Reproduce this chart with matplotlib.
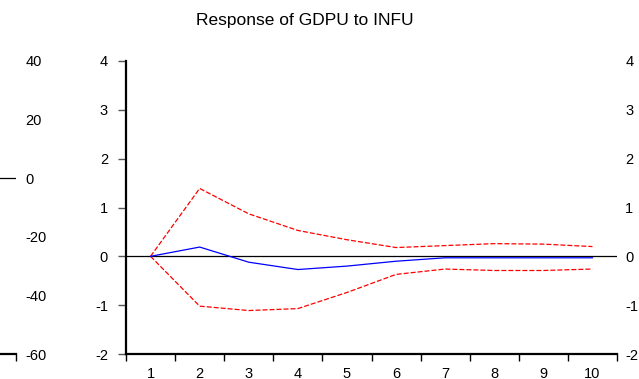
import matplotlib
matplotlib.use("Agg")
import matplotlib.pyplot as plt
from matplotlib.ticker import FixedLocator, NullFormatter

plt.rcParams["font.family"] = ["Liberation Sans", "DejaVu Sans"]
plt.rcParams["axes.unicode_minus"] = False

# Impulse response of GDPU to a shock in INFU, with +/- 2 S.E. bands
periods = [1, 2, 3, 4, 5, 6, 7, 8, 9, 10]
response = [0.0, 0.19, -0.12, -0.27, -0.20, -0.10, -0.03, -0.03, -0.03, -0.03]
upper_band = [0.0, 1.39, 0.87, 0.53, 0.34, 0.18, 0.22, 0.26, 0.25, 0.20]
lower_band = [0.0, -1.02, -1.11, -1.07, -0.74, -0.37, -0.26, -0.29, -0.29, -0.26]

y_ticks = [-2, -1, 0, 1, 2, 3, 4]
prev_y_ticks = [-60, -40, -20, 0, 20, 40]

W, H = 639, 379
fig = plt.figure(figsize=(W / 100, H / 100), dpi=100)

# panel geometry in pixels
ax_left, ax_right = 126, 617
ax_top, ax_bottom = 61, 354
FS = 10.5


def panel(left_px):
    return fig.add_axes([left_px / W, (H - ax_bottom) / H,
                         (ax_right - ax_left) / W, (ax_bottom - ax_top) / H])


def style_x(ax):
    ax.set_xlim(0.5, 10.5)
    ax.set_xticks(periods)
    ax.tick_params(axis="x", which="major", length=0, pad=9, labelsize=FS)
    ax.xaxis.set_minor_locator(FixedLocator([p + 0.5 for p in [0] + periods]))
    ax.xaxis.set_minor_formatter(NullFormatter())
    ax.tick_params(axis="x", which="minor", length=5, width=1.0,
                   direction="out", color="black")
    for s in ["top", "right", "left"]:
        ax.spines[s].set_visible(False)
    ax.spines["bottom"].set_linewidth(1.6)


# fragment of the neighbouring panel on the left
prev = panel(16 - (ax_right - ax_left))
prev.set_ylim(-60, 40)
prev.axhline(0, color="black", lw=0.9)
style_x(prev)
prev.yaxis.tick_right()
prev.set_yticks(prev_y_ticks)
prev.tick_params(axis="y", length=0, pad=7, labelsize=FS)

# main panel
ax = panel(ax_left)
ax.set_ylim(-2, 4)
ax.axhline(0, color="black", lw=0.9, zorder=1)
ax.plot(periods, upper_band, color="red", lw=0.9, dashes=(4, 1.6), zorder=2)
ax.plot(periods, lower_band, color="red", lw=0.9, dashes=(4, 1.6), zorder=2)
ax.plot(periods, response, color="blue", lw=0.9, zorder=3)
style_x(ax)
ax.spines["left"].set_visible(True)
ax.spines["left"].set_linewidth(1.6)
ax.set_yticks(y_ticks)
ax.tick_params(axis="y", length=6, width=1.0, color="#555555", pad=7,
               labelsize=FS)

# duplicate scale on the right-hand side
axr = ax.twinx()
axr.set_ylim(-2, 4)
axr.set_yticks(y_ticks)
axr.tick_params(axis="y", length=0, pad=6, labelsize=FS)
for s in axr.spines.values():
    s.set_visible(False)

fig.text(305 / W, 1 - 21 / H, "Response of GDPU to INFU", ha="center",
         va="center", fontsize=12.5)

fig.savefig("out.png", dpi=100)
